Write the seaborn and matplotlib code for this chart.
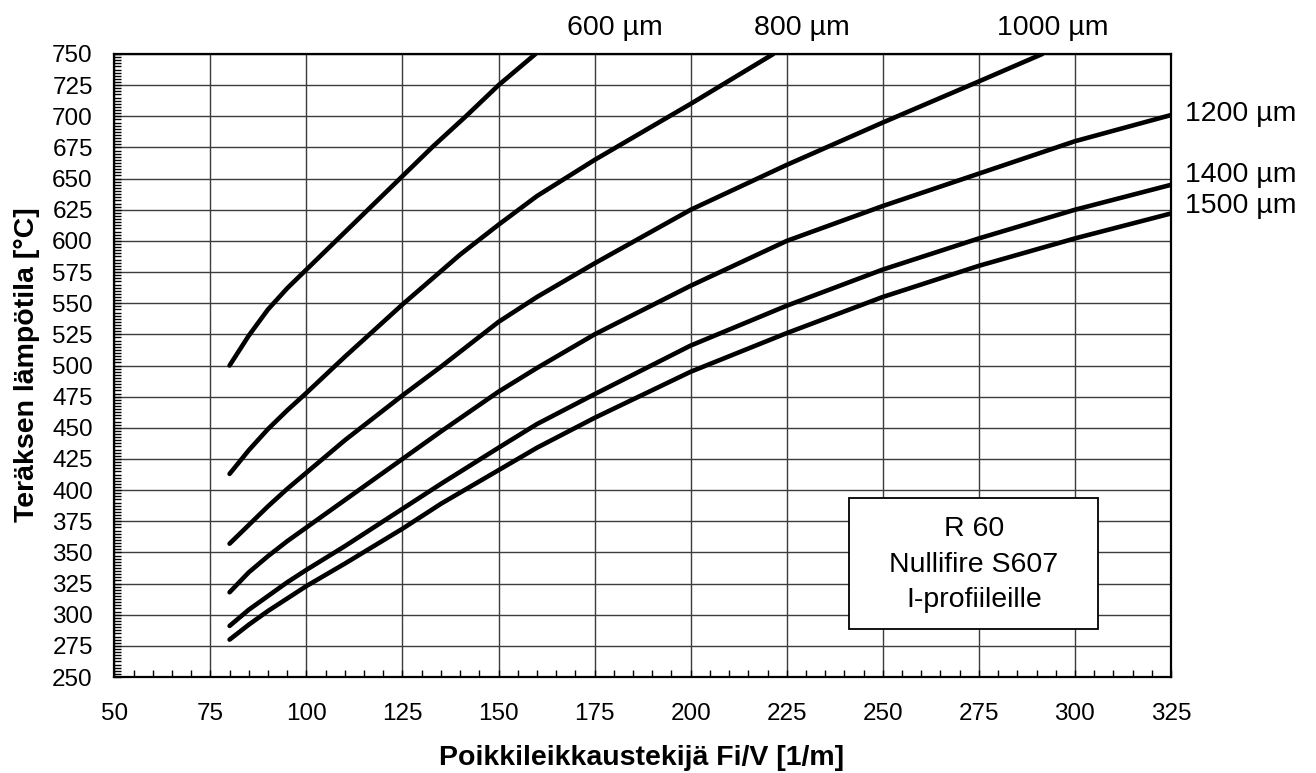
import numpy as np
import pandas as pd
import matplotlib
matplotlib.use("Agg")
import matplotlib.pyplot as plt
import seaborn as sns
from matplotlib.patches import Rectangle
from matplotlib.ticker import MultipleLocator

# ---- data ----
labels = ["600 µm", "800 µm", "1000 µm", "1200 µm", "1400 µm", "1500 µm"]

x_600 = [80, 85, 90, 95, 100, 108, 116, 125, 133, 141.5, 150, 159.6]
y_600 = [500, 524, 545, 562, 577, 601, 625, 652, 676, 700, 725, 750]

x_800 = [80, 85, 90, 95, 100, 110, 125, 140, 150, 160, 175, 200, 221.5]
y_800 = [413, 432, 449, 464, 478, 507, 549, 589, 613, 636, 665, 710, 750]

x_1000 = [80, 85, 90, 95, 100, 110, 120, 125, 135, 150, 160, 175, 200, 225, 250, 275, 291.5]
y_1000 = [357, 372, 387, 401, 414, 440, 464, 476, 499, 535, 555, 582, 625, 661, 695, 728, 750]

x_common = [80, 85, 90, 95, 100, 110, 125, 135, 150, 160, 175, 200, 225, 250, 275, 300, 325]
y_1200 = [318, 334, 347, 359, 370, 392, 425, 447, 479, 498, 525, 564, 600, 628, 654, 680, 701]
y_1400 = [291, 304, 315, 326, 336, 355, 385, 405, 434, 453, 477, 516, 548, 577, 602, 625, 645]
y_1500 = [280, 292, 303, 313, 323, 341, 369, 389, 416, 434, 458, 495, 526, 555, 580, 602, 622]

x_ticks = [50, 75, 100, 125, 150, 175, 200, 225, 250, 275, 300, 325]
y_ticks = list(range(250, 751, 25))

box_lines = ["R 60", "Nullifire S607", "I-profiileille"]
x_title = "Poikkileikkaustekijä Fi/V [1/m]"
y_title = "Teräksen lämpötila [°C]"

series = [(labels[0], x_600, y_600), (labels[1], x_800, y_800),
          (labels[2], x_1000, y_1000), (labels[3], x_common, y_1200),
          (labels[4], x_common, y_1400), (labels[5], x_common, y_1500)]
rows = []
for lab, xs, ys in series:
    for xv, yv in zip(xs, ys):
        rows.append({"label": lab, "x": xv, "y": yv})
df = pd.DataFrame(rows)

# ---- style ----
sns.set_theme(style="white")
plt.rcParams["font.family"] = ["Liberation Sans", "DejaVu Sans"]
plt.rcParams["text.color"] = "black"
plt.rcParams["axes.labelcolor"] = "black"
plt.rcParams["xtick.color"] = "black"
plt.rcParams["ytick.color"] = "black"
FS_TICK = 17.5
FS_BIG = 20.5

fig = plt.figure(figsize=(13.16, 7.73), dpi=100)
ax = fig.add_axes([114.3 / 1316, 1 - 677 / 773, (1171 - 114.3) / 1316, (677 - 54) / 773])

sns.lineplot(data=df, x="x", y="y", hue="label", hue_order=labels,
             palette=["black"] * len(labels), sort=False, estimator=None,
             linewidth=3.3, legend=False, ax=ax, zorder=4)

ax.set_xlim(50, 325)
ax.set_ylim(250, 750)
ax.set_xticks(x_ticks)
ax.set_yticks(y_ticks)
ax.xaxis.set_minor_locator(MultipleLocator(5))
ax.yaxis.set_minor_locator(MultipleLocator(2.5))
ax.grid(True, which="major", color="#3c3c3c", linewidth=1.0)
ax.set_axisbelow(True)
ax.tick_params(which="both", direction="in", left=True, bottom=True,
               top=False, right=False, colors="black", labelcolor="black")
ax.tick_params(which="major", length=5, width=1, labelsize=FS_TICK)
ax.tick_params(axis="x", which="major", pad=19)
ax.tick_params(axis="y", which="major", pad=15.5)
ax.tick_params(which="minor", length=5, width=1)
for s in ax.spines.values():
    s.set_visible(True)
    s.set_color("black")
    s.set_linewidth(1.6)

ax.set_xlabel(x_title, fontsize=FS_BIG, fontweight="bold", va="baseline", color="black")
ax.xaxis.set_label_coords((642 - 114.3) / 1056.7, (677 - 765) / 623)
ax.set_ylabel(y_title, fontsize=FS_BIG, fontweight="bold", va="center", color="black")
ax.yaxis.set_label_coords((27 - 114.3) / 1056.7, (677 - 365) / 623)

# curve labels
top_y = 765.3
ax.text(180.3, top_y, labels[0], fontsize=FS_BIG, ha="center", va="baseline", clip_on=False)
ax.text(228.9, top_y, labels[1], fontsize=FS_BIG, ha="center", va="baseline", clip_on=False)
ax.text(294.3, top_y, labels[2], fontsize=FS_BIG, ha="center", va="baseline", clip_on=False)
ax.text(328.6, 696.4, labels[3], fontsize=FS_BIG, ha="left", va="baseline", clip_on=False)
ax.text(328.6, 647.4, labels[4], fontsize=FS_BIG, ha="left", va="baseline", clip_on=False)
ax.text(328.6, 622.0, labels[5], fontsize=FS_BIG, ha="left", va="baseline", clip_on=False)

# info box
ax.add_patch(Rectangle((241.3, 288.2), 306.1 - 241.3, 393.6 - 288.2,
                       facecolor="white", edgecolor="black", linewidth=1.3, zorder=5))
for txt, yb in zip(box_lines, [362.9, 334.2, 306.1]):
    ax.text(273.7, yb, txt, fontsize=FS_BIG, ha="center", va="baseline", zorder=6)

fig.savefig("out.png", dpi=100)
